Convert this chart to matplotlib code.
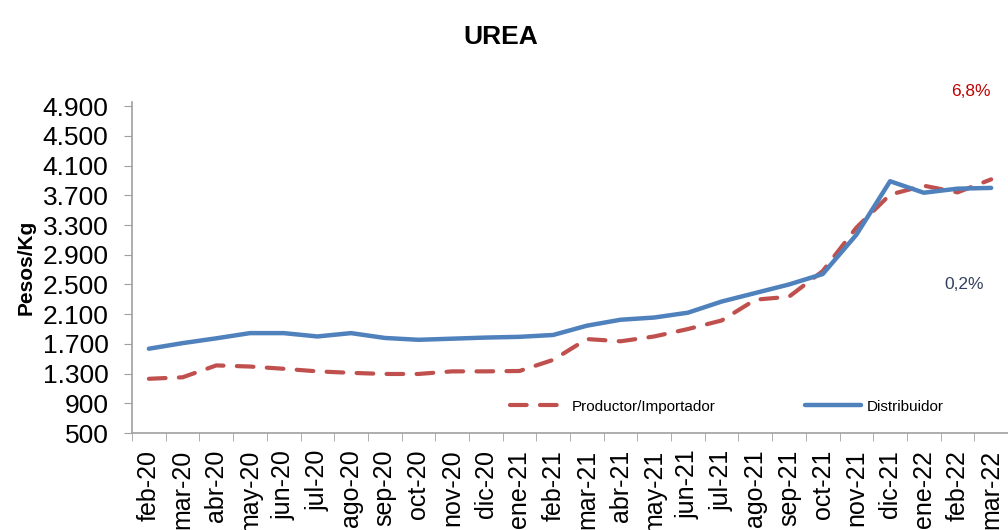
import matplotlib.pyplot as plt
from matplotlib.ticker import FixedLocator
from matplotlib.lines import Line2D

plt.rcParams['font.family'] = ['Liberation Sans', 'DejaVu Sans']

# Monthly labels
months = ["feb-20", "mar-20", "abr-20", "may-20", "jun-20", "jul-20", "ago-20",
          "sep-20", "oct-20", "nov-20", "dic-20", "ene-21", "feb-21", "mar-21",
          "abr-21", "may-21", "jun-21", "jul-21", "ago-21", "sep-21", "oct-21",
          "nov-21", "dic-21", "ene-22", "feb-22", "mar-22"]

# Pesos/Kg
productor = [1230, 1250, 1410, 1395, 1365, 1330, 1310, 1295, 1295, 1330, 1330,
             1335, 1485, 1765, 1735, 1800, 1900, 2015, 2295, 2335, 2680, 3265,
             3710, 3830, 3740, 3915]
distribuidor = [1635, 1710, 1775, 1845, 1845, 1800, 1845, 1780, 1755, 1770, 1785,
                1795, 1820, 1945, 2025, 2055, 2120, 2270, 2385, 2500, 2640, 3170,
                3890, 3735, 3790, 3800]

yticks = [500, 900, 1300, 1700, 2100, 2500, 2900, 3300, 3700, 4100, 4500, 4900]

red = "#C0504D"
blue = "#4F81BD"

fig = plt.figure(figsize=(10.08, 5.30), dpi=100)
ax = fig.add_axes([0.131, 0.183, 0.869, 0.625])

x = range(len(months))
ax.plot(x, productor, color=red, lw=3, dashes=(4, 3.2), dash_capstyle="round")
ax.plot(x, distribuidor, color=blue, lw=3.2, solid_capstyle="round")

ax.set_xlim(-0.5, len(months) - 0.5)
ax.set_ylim(500, 4960)
ax.set_yticks(yticks)
ax.set_yticklabels([f"{v:,}".replace(",", ".") for v in yticks], fontsize=19)
ax.set_xticks(list(x))
ax.set_xticklabels(months, rotation=90, fontsize=18, va="top")
ax.xaxis.set_minor_locator(FixedLocator([i - 0.5 for i in range(len(months) + 1)]))
ax.tick_params(axis="x", which="major", length=0, pad=12)
ax.tick_params(axis="x", which="minor", length=6, color="#A0A0A0", direction="out")
ax.tick_params(axis="y", length=6, color="#A0A0A0", direction="out", pad=11)

for s in ["top", "right"]:
    ax.spines[s].set_visible(False)
for s in ["left", "bottom"]:
    ax.spines[s].set_color("#A0A0A0")
    ax.spines[s].set_linewidth(1.2)

ax.set_ylabel("Pesos/Kg", fontsize=15, fontweight="bold")
ax.yaxis.set_label_coords(-0.11, 0.5)

# two legend entries placed separately (different handle lengths)
h1 = Line2D([], [], color=red, lw=3, dashes=(4, 3.2), dash_capstyle="round")
h2 = Line2D([], [], color=blue, lw=3.2, solid_capstyle="round")
leg1 = ax.legend([h1], ["Productor/Importador"], loc="center left",
                 bbox_to_anchor=(0.431, 0.079), frameon=False, fontsize=11,
                 handlelength=3.1, handletextpad=1.0, borderpad=0, borderaxespad=0)
ax.add_artist(leg1)
ax.legend([h2], ["Distribuidor"], loc="center left",
          bbox_to_anchor=(0.768, 0.079), frameon=False, fontsize=11,
          handlelength=3.7, handletextpad=0.35, borderpad=0, borderaxespad=0)

fig.text(0.497, 0.930, "UREA", fontsize=19, fontweight="bold", ha="center", va="center")
fig.text(0.963, 0.828, "6,8%", fontsize=12.5, color="#C00000", ha="center", va="center")
fig.text(0.956, 0.463, "0,2%", fontsize=12.5, color="#333F5E", ha="center", va="center")

fig.savefig("out.png", dpi=100)
